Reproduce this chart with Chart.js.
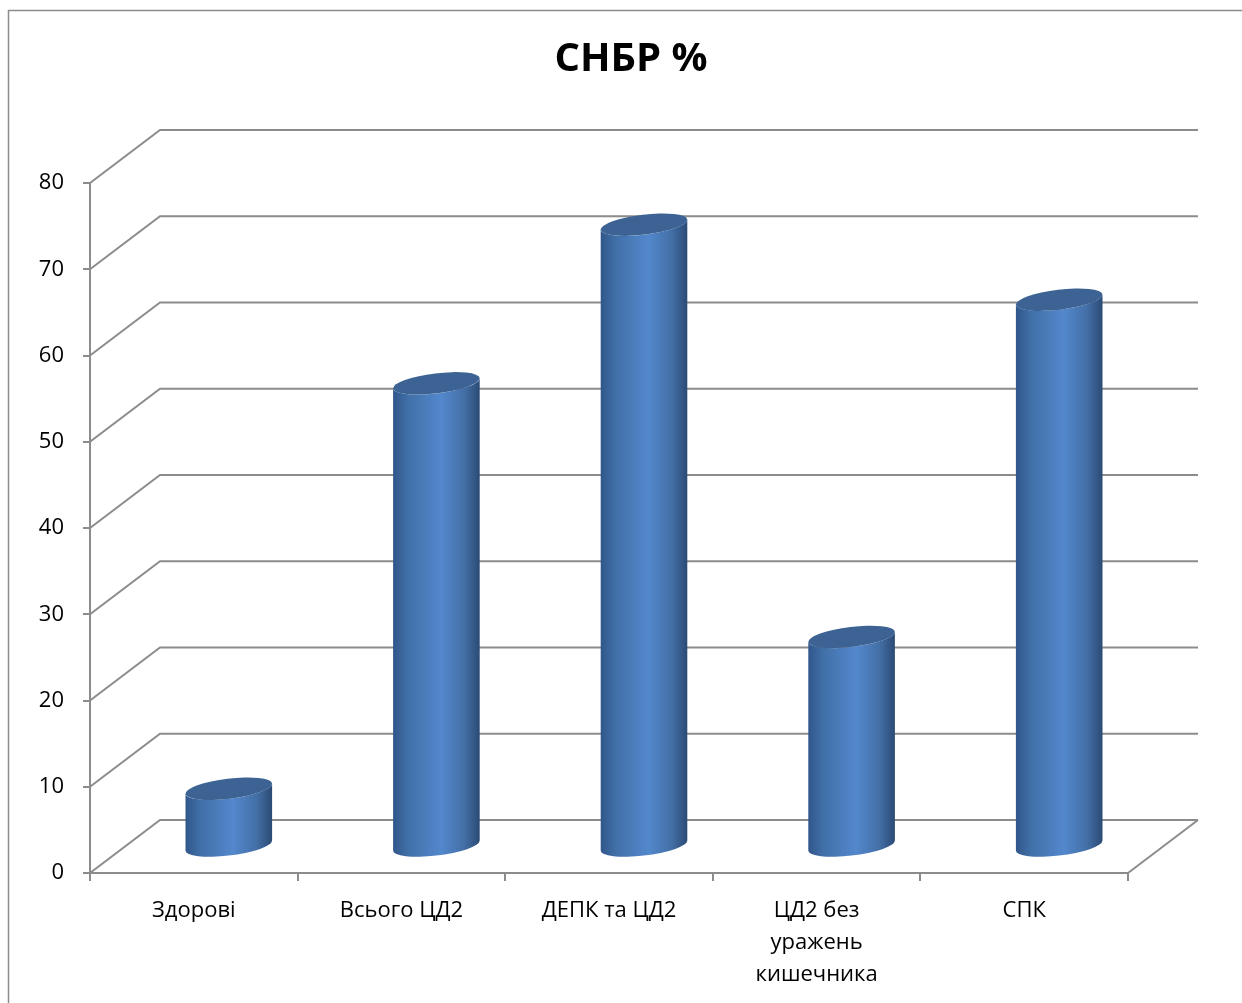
<!DOCTYPE html>
<html>
<head>
<meta charset="utf-8">
<script src="https://cdn.jsdelivr.net/npm/chart.js@4.4.1/dist/chart.umd.min.js"></script>
<style>
  html, body { margin: 0; padding: 0; background: #fff; }
</style>
</head>
<body>
<canvas id="chart" width="1242" height="1003"></canvas>
<script>
const categories = ['Здорові', 'Всього ЦД2', 'ДЕПК та ЦД2', ['ЦД2 без', 'уражень', 'кишечника'], 'СПК'];
const values = [6.7, 53.7, 72.1, 24.3, 63.4];
const yMin = 0;
const yMax = 80;
const yStep = 10;
const titleText = 'СНБР %';

const lineColor = '#8c8c8c';
const fontFamily = '"Open Sans", "Noto Sans", sans-serif';
// oblique offset of the back wall relative to the front axes
const depth = { dx: 70, dy: -53 };

function drawCylinder(ctx, cx, top, bot, rx) {
  const ry = rx * 0.23;
  const rot = -0.12;
  // parametric angles of the left/right silhouette points of a rotated ellipse
  const tR = Math.atan(-(ry / rx) * Math.tan(rot));
  const tL = tR + Math.PI;
  const xL = rx * Math.cos(tL) * Math.cos(rot) - ry * Math.sin(tL) * Math.sin(rot);
  const yL = rx * Math.cos(tL) * Math.sin(rot) + ry * Math.sin(tL) * Math.cos(rot);

  const grad = ctx.createLinearGradient(cx - rx, 0, cx + rx, 0);
  grad.addColorStop(0, '#30568a');
  grad.addColorStop(0.18, '#4170a8');
  grad.addColorStop(0.55, '#5388cd');
  grad.addColorStop(0.82, '#436fa6');
  grad.addColorStop(1, '#2b4a74');

  ctx.beginPath();
  ctx.ellipse(cx, bot, rx, ry, rot, tR, tL, false);
  ctx.lineTo(cx + xL, top + yL);
  ctx.ellipse(cx, top, rx, ry, rot, tL, tR, true);
  ctx.closePath();
  ctx.fillStyle = grad;
  ctx.fill();

  ctx.beginPath();
  ctx.ellipse(cx, top, rx, ry, rot, 0, Math.PI * 2);
  ctx.fillStyle = '#3c6393';
  ctx.fill();
}

const frame3d = {
  id: 'frame3d',
  beforeDraw(chart) {
    const ctx = chart.ctx;
    ctx.save();
    ctx.fillStyle = '#fff';
    ctx.fillRect(0, 0, chart.width, chart.height);
    ctx.strokeStyle = lineColor;
    ctx.lineWidth = 1.5;
    ctx.strokeRect(8.5, 10.5, chart.width + 20, chart.height + 20);
    ctx.restore();
  },
  beforeDatasetsDraw(chart) {
    const { ctx, chartArea: a, scales: { y } } = chart;
    ctx.save();
    ctx.strokeStyle = lineColor;
    ctx.lineWidth = 2;
    for (let v = yMin; v <= yMax; v += yStep) {
      const py = y.getPixelForValue(v);
      ctx.beginPath();
      ctx.moveTo(a.left, py);
      ctx.lineTo(a.left + depth.dx, py + depth.dy);
      ctx.lineTo(a.right + depth.dx, py + depth.dy);
      ctx.stroke();
    }
    const p0 = y.getPixelForValue(yMin);
    ctx.beginPath();
    ctx.moveTo(a.right, p0);
    ctx.lineTo(a.right + depth.dx, p0 + depth.dy);
    ctx.stroke();
    ctx.restore();
  },
  afterDatasetsDraw(chart) {
    const ctx = chart.ctx;
    ctx.save();
    chart.getDatasetMeta(0).data.forEach(bar => {
      // cylinders stand halfway between the front axis and the back wall
      const cx = bar.x + depth.dx / 2;
      drawCylinder(ctx, cx, bar.y + depth.dy / 2, bar.base + depth.dy / 2, bar.width / 2);
    });
    ctx.restore();
  },
  afterDraw(chart) {
    const ctx = chart.ctx;
    ctx.save();
    ctx.font = 'bold 40px ' + fontFamily;
    ctx.fillStyle = '#000';
    ctx.textAlign = 'center';
    ctx.textBaseline = 'middle';
    ctx.fillText(titleText, 631, 60);
    ctx.restore();
  }
};

new Chart(document.getElementById('chart'), {
  type: 'bar',
  data: {
    labels: categories,
    datasets: [{
      data: values,
      backgroundColor: 'rgba(0,0,0,0)',
      barPercentage: 0.84,
      categoryPercentage: 0.5
    }]
  },
  options: {
    responsive: false,
    animation: false,
    layout: { padding: { left: 0, right: 114, top: 183, bottom: 0 } },
    plugins: {
      legend: { display: false },
      tooltip: { enabled: false },
      title: { display: false }
    },
    scales: {
      x: {
        afterFit(scale) { scale.height = 130; },
        grid: { drawOnChartArea: false, tickLength: 8, color: lineColor, lineWidth: 2 },
        border: { color: lineColor, width: 2 },
        ticks: {
          color: '#000',
          padding: 14,
          maxRotation: 0,
          font: { family: fontFamily, size: 22, lineHeight: 1.45 }
        }
      },
      y: {
        min: yMin,
        max: yMax,
        afterFit(scale) { scale.width = 90; },
        grid: { drawOnChartArea: false, tickLength: 7, color: lineColor, lineWidth: 2 },
        border: { color: lineColor, width: 2 },
        ticks: {
          stepSize: yStep,
          color: '#000',
          padding: 19,
          font: { family: fontFamily, size: 22 }
        }
      }
    }
  },
  plugins: [frame3d]
});
</script>
</body>
</html>
